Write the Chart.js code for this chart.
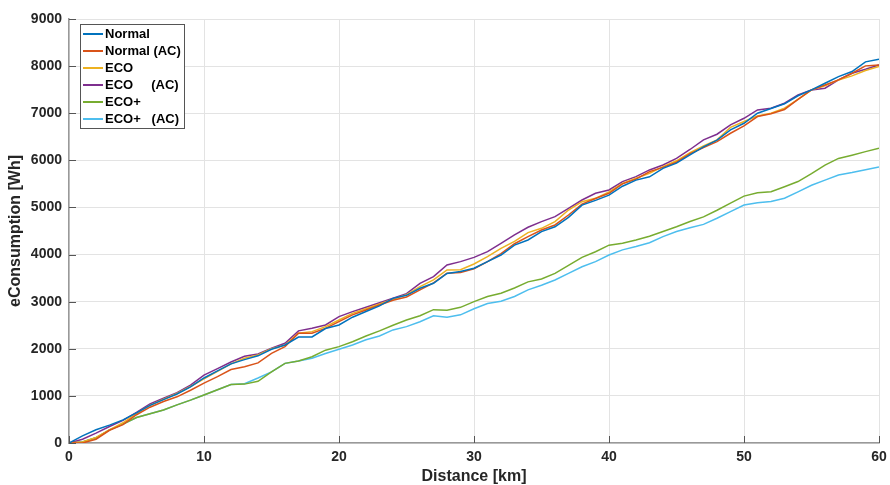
<!DOCTYPE html>
<html>
<head>
<meta charset="utf-8">
<script src="https://cdn.jsdelivr.net/npm/chart.js@4.4.1/dist/chart.umd.min.js"></script>
<style>
  body { margin: 0; background: #fff; }
</style>
</head>
<body>
<canvas id="myChart" width="890" height="485"></canvas>
<script>
// distance in km, consumption in Wh
const distance = [0,1,2,3,4,5,6,7,8,9,10,11,12,13,14,15,16,17,18,19,20,21,22,23,24,25,26,27,28,29,30,
  31,32,33,34,35,36,37,38,39,40,41,42,43,44,45,46,47,48,49,50,51,52,53,54,55,56,57,58,59,60];

const normal = [0,150,280,380,490,640,800,920,1040,1190,1380,1530,1680,1770,1850,1990,2080,2250,2250,2430,2505,
  2670,2790,2910,3070,3135,3285,3390,3600,3640,3710,3850,3990,4200,4310,4486,4590,4790,5050,5150,5260,
  5450,5580,5650,5830,5940,6115,6285,6430,6646,6787,7000,7100,7200,7370,7495,7637,7778,7885,8090,8146];

const normalAC = [0,0,80,270,390,600,760,880,980,1120,1270,1410,1560,1620,1700,1903,2045,2328,2330,2434,2576,
  2720,2823,2930,3030,3100,3249,3400,3603,3620,3700,3850,4020,4230,4380,4521,4628,4840,5071,5190,5300,
  5500,5600,5760,5850,5960,6140,6270,6398,6575,6731,6929,6990,7080,7296,7495,7600,7707,7849,8005,8026];

const eco = [0,20,120,280,430,630,800,930,1050,1200,1360,1520,1680,1800,1870,2000,2080,2330,2364,2470,2611,
  2752,2850,2950,3050,3150,3320,3461,3673,3680,3800,3955,4132,4280,4465,4557,4698,4946,5123,5193,5330,
  5512,5620,5725,5867,5990,6165,6307,6434,6700,6823,6942,7000,7106,7296,7495,7580,7707,7792,7906,7991];

const ecoAC = [0,80,210,350,480,650,830,950,1070,1230,1440,1580,1720,1840,1890,2010,2116,2380,2434,2505,2682,
  2788,2880,2978,3072,3171,3390,3532,3779,3850,3940,4061,4238,4416,4579,4698,4805,4982,5158,5300,5371,
  5548,5654,5796,5902,6040,6230,6434,6554,6752,6893,7070,7106,7212,7389,7495,7531,7707,7849,7934,8026];

const ecoPlus = [0,20,110,280,400,540,620,700,810,910,1020,1130,1240,1250,1310,1510,1690,1740,1830,1970,2045,
  2150,2270,2380,2500,2610,2700,2830,2820,2880,3000,3110,3180,3290,3420,3480,3600,3770,3940,4060,4200,
  4240,4310,4390,4490,4590,4700,4800,4940,5090,5240,5310,5335,5440,5550,5720,5900,6040,6110,6185,6255];

const ecoPlusAC = [0,20,110,280,400,540,620,700,810,910,1020,1130,1240,1260,1380,1510,1690,1740,1800,1900,1990,
  2080,2190,2270,2400,2470,2575,2700,2670,2720,2850,2960,3010,3110,3250,3350,3460,3600,3740,3850,3990,
  4100,4170,4250,4380,4490,4570,4640,4770,4910,5050,5100,5125,5195,5330,5470,5580,5690,5740,5800,5860];

const seriesLabels = ['Normal', 'Normal (AC)', 'ECO', 'ECO     (AC)', 'ECO+', 'ECO+   (AC)'];
const seriesColors = ['#0072BD', '#D95319', '#EDB120', '#7E2F8E', '#77AC30', '#4DBEEE'];
const seriesData = [normal, normalAC, eco, ecoAC, ecoPlus, ecoPlusAC];

const font = '"Liberation Sans", Arial, Helvetica, sans-serif';

// legend box drawn inside the plot, top-left
const boxLegend = {
  id: 'boxLegend',
  afterDraw(chart) {
    const ctx = chart.ctx;
    const x0 = chart.chartArea.left + 11;
    const y0 = chart.chartArea.top + 5;
    const w = 104, h = 104, row = 17;
    ctx.save();
    ctx.fillStyle = '#fff';
    ctx.fillRect(x0, y0, w, h);
    ctx.strokeStyle = '#555';
    ctx.lineWidth = 1;
    ctx.strokeRect(x0 + 0.5, y0 + 0.5, w, h);
    ctx.font = 'bold 13px ' + font;
    ctx.textBaseline = 'middle';
    chart.data.datasets.forEach((ds, i) => {
      const y = y0 + 10 + i * row;
      ctx.strokeStyle = ds.borderColor;
      ctx.lineWidth = 2;
      ctx.beginPath();
      ctx.moveTo(x0 + 3, y);
      ctx.lineTo(x0 + 23, y);
      ctx.stroke();
      ctx.fillStyle = '#000';
      ctx.fillText(ds.label, x0 + 25, y);
    });
    ctx.restore();
  }
};

// small tick marks pointing into the plot, like matlab
const innerTicks = {
  id: 'innerTicks',
  afterDatasetsDraw(chart) {
    const { ctx, chartArea, scales } = chart;
    ctx.save();
    ctx.strokeStyle = '#555';
    ctx.lineWidth = 1;
    ctx.beginPath();
    scales.x.ticks.forEach(t => {
      const px = Math.round(scales.x.getPixelForValue(t.value)) + 0.5;
      ctx.moveTo(px, chartArea.bottom);
      ctx.lineTo(px, chartArea.bottom - 7);
    });
    scales.y.ticks.forEach(t => {
      const py = Math.round(scales.y.getPixelForValue(t.value)) + 0.5;
      ctx.moveTo(chartArea.left, py);
      ctx.lineTo(chartArea.left + 7, py);
    });
    ctx.stroke();
    ctx.restore();
  }
};

const ctx = document.getElementById('myChart').getContext('2d');
const myChart = new Chart(ctx, {
  type: 'line',
  data: {
    datasets: seriesData.map((vals, i) => ({
      label: seriesLabels[i],
      data: vals.map((v, j) => ({ x: distance[j], y: v })),
      borderColor: seriesColors[i],
      backgroundColor: seriesColors[i],
      borderWidth: 1.5,
      pointRadius: 0,
      tension: 0,
      fill: false
    }))
  },
  options: {
    responsive: false,
    animation: false,
    layout: { padding: { top: 19, right: 11, left: 0, bottom: 0 } },
    plugins: {
      legend: { display: false },
      tooltip: { enabled: false }
    },
    scales: {
      x: {
        type: 'linear',
        min: 0,
        max: 60,
        afterFit: s => { s.height = 42; s.paddingLeft = 0; s.paddingRight = 0; },
        ticks: { stepSize: 10, padding: 6, color: '#262626', font: { family: font, size: 14, weight: 'bold' } },
        grid: { color: '#e3e3e3', drawTicks: false },
        border: { color: '#999', width: 1.5 },
        title: {
          display: true,
          text: 'Distance [km]',
          color: '#262626',
          padding: { top: 0, bottom: 0 },
          font: { family: font, size: 16, weight: 'bold', lineHeight: 1 }
        }
      },
      y: {
        min: 0,
        max: 9000,
        afterFit: s => { s.width = 69; s.paddingTop = 0; s.paddingBottom = 0; },
        ticks: {
          stepSize: 1000,
          padding: 7,
          color: '#262626',
          font: { family: font, size: 14, weight: 'bold' },
          callback: v => String(v)
        },
        grid: { color: '#e3e3e3', drawTicks: false },
        border: { color: '#999', width: 1.5 },
        title: {
          display: true,
          text: 'eConsumption [Wh]',
          color: '#262626',
          padding: { top: 6, bottom: 0 },
          font: { family: font, size: 16, weight: 'bold' }
        }
      }
    }
  },
  plugins: [innerTicks, boxLegend]
});
</script>
</body>
</html>
